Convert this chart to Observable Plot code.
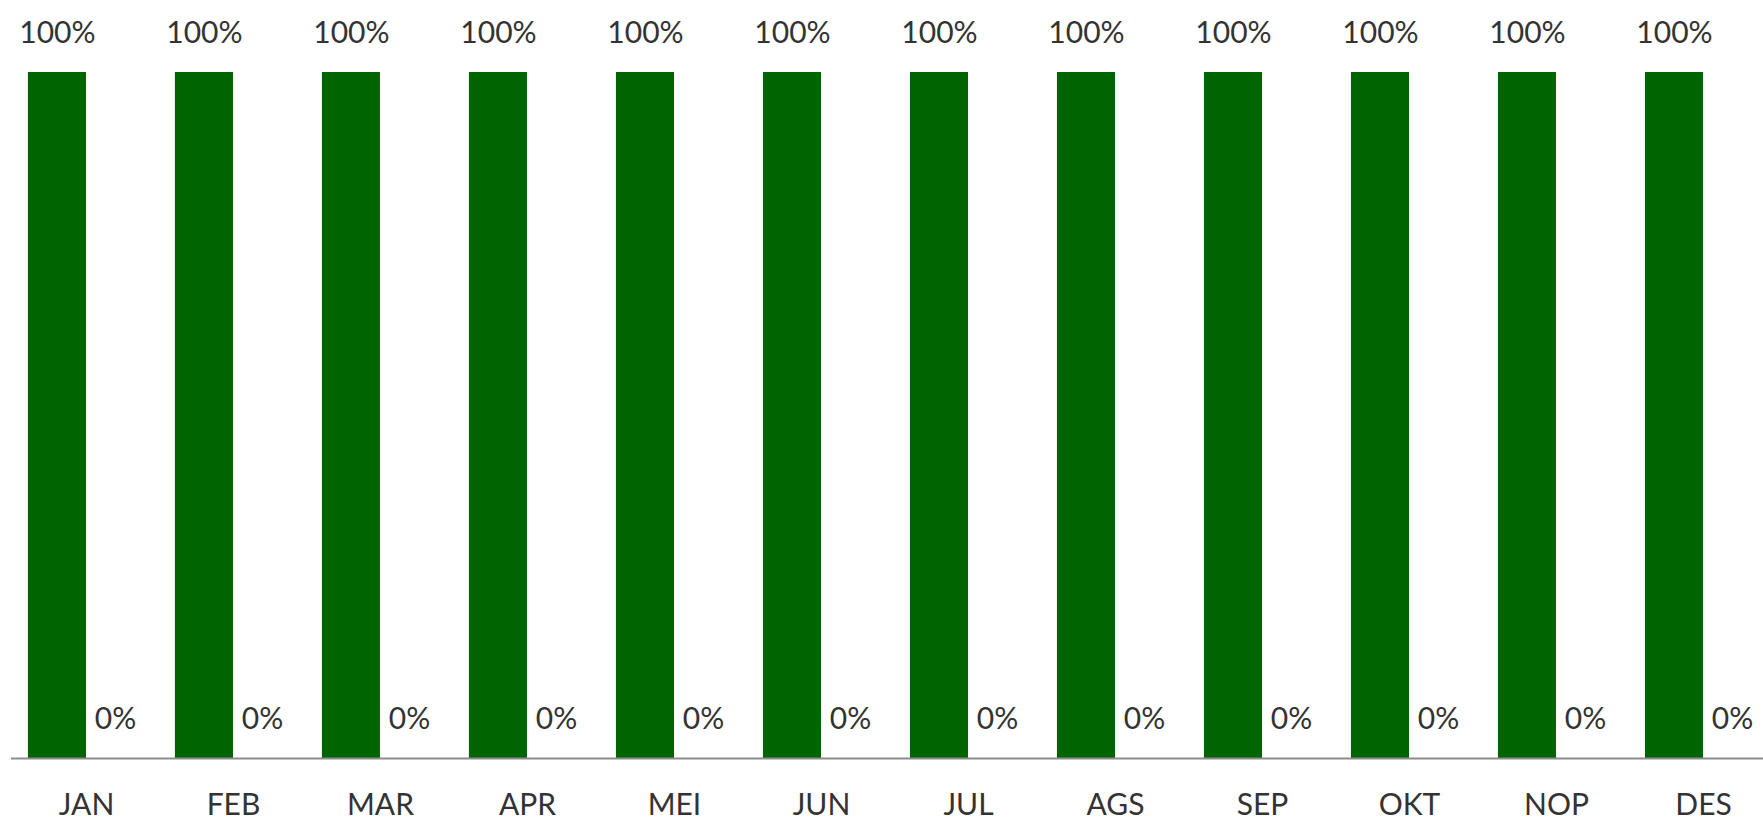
<!DOCTYPE html>
<html>
<head>
<meta charset="utf-8">
<script src="https://cdn.jsdelivr.net/npm/d3@7"></script>
<script src="https://cdn.jsdelivr.net/npm/@observablehq/plot@0.6"></script>
<style>
  html, body { margin: 0; padding: 0; background: #ffffff; }
  #chart { width: 1763px; height: 822px; }
</style>
</head>
<body>
<div id="chart"></div>
<script>
const months = ["JAN", "FEB", "MAR", "APR", "MEI", "JUN", "JUL", "AGS", "SEP", "OKT", "NOP", "DES"];
const seriesA = [100, 100, 100, 100, 100, 100, 100, 100, 100, 100, 100, 100];
const seriesB = [0, 0, 0, 0, 0, 0, 0, 0, 0, 0, 0, 0];

const barW = 0.395; // bar width in group units
const dataA = months.map((m, i) => ({month: m, i, value: seriesA[i]}));
const dataB = months.map((m, i) => ({month: m, i, value: seriesB[i]}));

const textColor = "#333333";
const font = "Lato, 'Open Sans', sans-serif";

const chart = Plot.plot({
  width: 1763,
  height: 822,
  marginTop: 72,
  marginBottom: 64,
  marginLeft: 11,
  marginRight: 0,
  style: {fontFamily: font, background: "#ffffff"},
  x: {type: "linear", domain: [-0.51, 11.408], axis: null},
  y: {domain: [0, 100], axis: null},
  marks: [
    Plot.rectY(dataA, {x1: d => d.i - barW, x2: d => d.i, y1: 0, y2: "value", fill: "#006400"}),
    Plot.rectY(dataB, {x1: d => d.i, x2: d => d.i + barW, y1: 0, y2: "value", fill: "#006400"}),
    Plot.ruleY([0], {stroke: "#8c8c8c", strokeWidth: 2}),
    Plot.text(dataA, {x: d => d.i - barW / 2, y: "value", text: d => d.value + "%", dy: -39, fontSize: 30, fill: textColor}),
    Plot.text(dataB, {x: d => d.i + barW / 2, y: "value", text: d => d.value + "%", dy: -39, fontSize: 30, fill: textColor}),
    Plot.text(months, {x: (d, i) => i, y: 0, text: d => d, dy: 47, fontSize: 30, fill: textColor})
  ]
});
document.getElementById("chart").appendChild(chart);
</script>
</body>
</html>
